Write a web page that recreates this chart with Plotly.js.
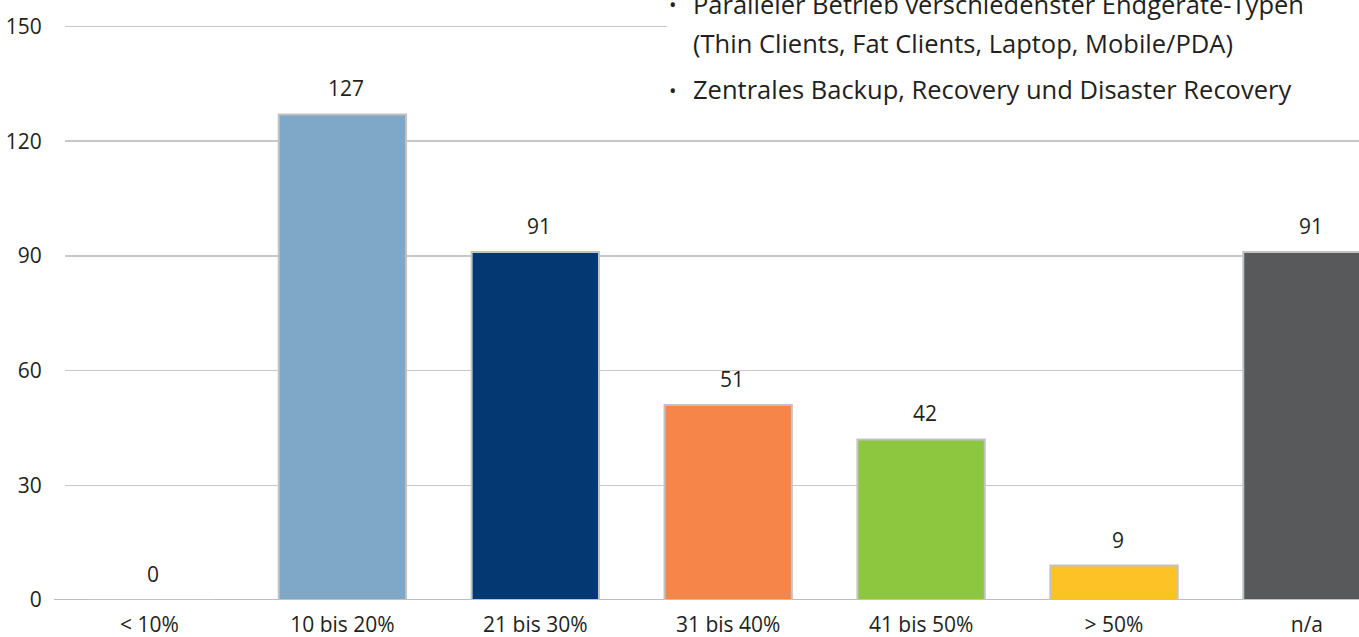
<!DOCTYPE html>
<html>
<head>
<meta charset="utf-8">
<script src="https://cdn.plot.ly/plotly-3.0.1.min.js"></script>
<style>
  html, body { margin: 0; padding: 0; background: #ffffff; }
  #chart { width: 1359px; height: 637px; }
</style>
</head>
<body>
<div id="chart"></div>
<script>
// ---- data ----
const categories = ["< 10%", "10 bis 20%", "21 bis 30%", "31 bis 40%", "41 bis 50%", "> 50%", "n/a"];
const values = [0, 127, 91, 51, 42, 9, 91];
const barColors = ["#7fa7c8", "#7fa7c8", "#033872", "#f58549", "#8dc63f", "#fdc225", "#58595b"];
const yTicks = [0, 30, 60, 90, 120, 150];
const noteLines = [
  "Paralleler Betrieb verschiedenster Endgeräte-Typen",
  "(Thin Clients, Fat Clients, Laptop, Mobile/PDA)",
  "Zentrales Backup, Recovery und Disaster Recovery"
];
const noteBullets = [true, false, true];

// ---- layout constants ----
const W = 1359, H = 637;
const M = {l: 65, r: 0, t: 25, b: 37};
const plotW = W - M.l - M.r, plotH = H - M.t - M.b;
const px2x = px => (px - M.l) / plotW;
const py2y = py => 1 - (py - M.t) / plotH;
const textColor = "#231f20";
const font = "Open Sans, sans-serif";

const trace = {
  type: "bar",
  x: categories,
  y: values,
  marker: {color: barColors, line: {color: "#c2c2c2", width: 2}},
  width: 0.66,
  hoverinfo: "skip"
};

const annotations = categories.map((c, i) => ({
  x: c, y: values[i], xref: "x", yref: "y",
  text: String(values[i]), showarrow: false,
  yanchor: "bottom", yshift: 10, xshift: 4,
  font: {family: font, size: 21, color: textColor}
}));

const noteCenterY = [4, 43, 89];
noteLines.forEach((t, i) => {
  const cy = noteCenterY[i];
  annotations.push({
    xref: "paper", yref: "paper", x: px2x(691), y: py2y(cy),
    xanchor: "left", yanchor: "middle", text: t, showarrow: false,
    font: {family: font, size: 25.5, color: textColor}
  });
  if (noteBullets[i]) {
    annotations.push({
      xref: "paper", yref: "paper", x: px2x(667), y: py2y(cy + 1),
      xanchor: "left", yanchor: "middle", text: "•", showarrow: false,
      font: {family: font, size: 20, color: textColor}
    });
  }
});

const layout = {
  width: W, height: H,
  margin: M,
  paper_bgcolor: "#ffffff", plot_bgcolor: "#ffffff",
  showlegend: false,
  font: {family: font, color: textColor},
  xaxis: {
    type: "category",
    range: [-0.438, 6.27],
    showgrid: false, zeroline: false, showline: false,
    ticks: "outside", ticklen: 6, tickcolor: "rgba(0,0,0,0)",
    tickfont: {family: font, size: 21, color: textColor},
    fixedrange: true
  },
  yaxis: {
    range: [0, 150.4],
    tickvals: yTicks,
    ticktext: yTicks.map(String),
    showgrid: true, gridcolor: "#c8c8c8", gridwidth: 1.5,
    zeroline: false, showline: false,
    ticks: "outside", ticklen: 18, tickcolor: "rgba(0,0,0,0)",
    tickfont: {family: font, size: 21, color: textColor},
    fixedrange: true
  },
  shapes: [
    {type: "line", xref: "paper", yref: "y", x0: px2x(54), x1: 1, y0: 0, y1: 0,
     line: {color: "#bdbdbd", width: 2}, layer: "below"},
    {type: "rect", xref: "paper", yref: "paper", x0: px2x(667), x1: 1.01, y0: py2y(118), y1: py2y(-5),
     fillcolor: "#ffffff", line: {width: 0}, layer: "above"}
  ],
  annotations: annotations,
  bargap: 0.34
};

Plotly.newPlot("chart", [trace], layout, {displayModeBar: false, staticPlot: true});
</script>
</body>
</html>
